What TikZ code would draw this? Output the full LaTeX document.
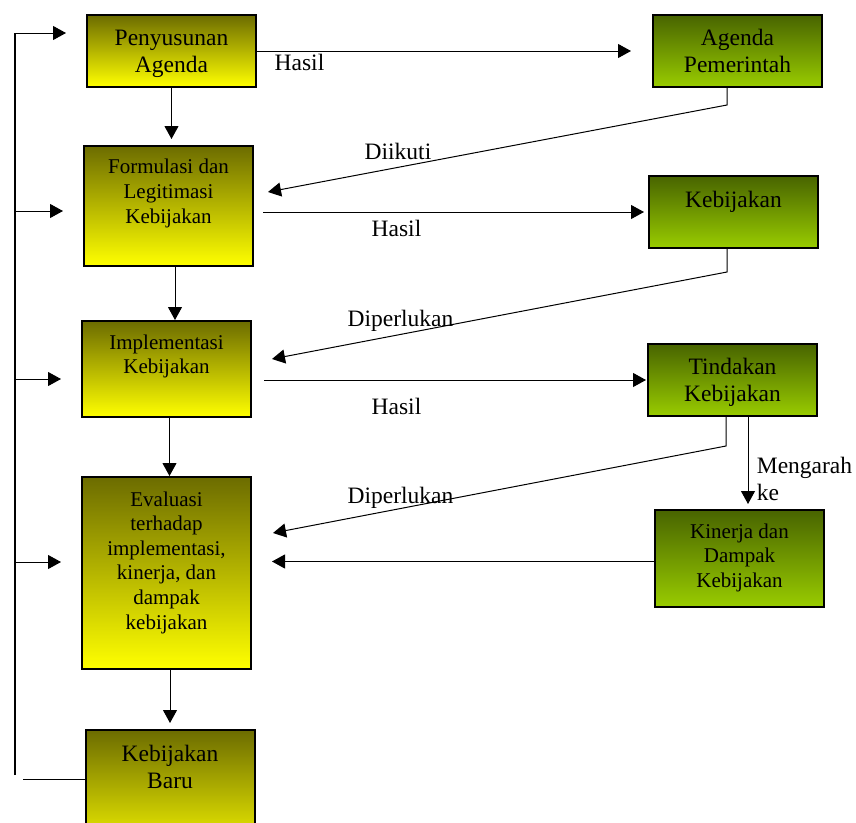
\documentclass[tikz,border=0pt]{standalone}
\usepackage{fontspec}
\setmainfont{Liberation Serif}
\usetikzlibrary{arrows.meta,positioning}

\definecolor{olivetop}{RGB}{108,108,0}
\definecolor{olivebot}{RGB}{255,255,0}
\definecolor{greentop}{RGB}{72,100,0}
\definecolor{greenbot}{RGB}{153,204,0}

\tikzset{
  ybox/.style={draw, line width=2pt, top color=olivetop, bottom color=olivebot,
    minimum width=169pt, inner sep=0pt},
  gbox/.style={draw, line width=2pt, top color=greentop, bottom color=greenbot,
    minimum width=169pt, inner sep=0pt},
  big/.style={font=\fontsize{23.5}{27}\selectfont, align=center, inner sep=0pt,
    execute at begin node=\strut, execute at end node=\strut},
  small/.style={big, font=\fontsize{21}{24.6}\selectfont},
  lbl/.style={font=\fontsize{23.5}{27}\selectfont, inner sep=0pt, anchor=base},
  con/.style={line width=1pt},
  arr/.style={con, -{Triangle[length=13pt,width=14pt]}},
}

\begin{document}
\begin{tikzpicture}[x=1pt, y=-1pt]
	\useasboundingbox (0,0) rectangle (856,822);

	% left column
	\node[ybox, minimum height=72pt] (penyusunan) at (171.5,51) {};
	\node[ybox, minimum height=120pt] (formulasi) at (168.5,206) {};
	\node[ybox, minimum height=96pt] (implementasi) at (166.5,369) {};
	\node[ybox, minimum height=192pt] (evaluasi) at (166.5,573) {};
	\node[ybox, minimum height=130pt] (baru) at (170,795) {};

	% right column
	\node[gbox, minimum height=72pt] (pemerintah) at (737.5,51) {};
	\node[gbox, minimum height=72pt] (kebijakan) at (733.5,212) {};
	\node[gbox, minimum height=72pt] (tindakan) at (732.5,380) {};
	\node[gbox, minimum height=97pt] (kinerja) at (739.5,558.5) {};

	\node[big] (penyusunan-t) at (171.5,55) {Penyusunan\\Agenda};
	\node[small] (formulasi-t) at (168.5,195) {Formulasi dan\\Legitimasi\\Kebijakan};
	\node[small] (implementasi-t) at (166.5,358) {Implementasi\\Kebijakan};
	\node[small] (evaluasi-t) at (166.5,564) {Evaluasi\\terhadap\\implementasi,\\kinerja, dan\\dampak\\kebijakan};
	\node[big] (baru-t) at (170,771) {Kebijakan\\Baru};
	\node[big] (pemerintah-t) at (737.5,55) {Agenda\\Pemerintah};
	\node[big] (kebijakan-t) at (733.5,201.6) {Kebijakan};
	\node[big] (tindakan-t) at (732.5,384) {Tindakan\\Kebijakan};
	\node[small] (kinerja-t) at (739.5,559) {Kinerja dan\\Dampak\\Kebijakan};

	\node[lbl] (hasil-a) at (299.5,70) {Hasil};
	\node[lbl] (diikuti) at (398,159) {Diikuti};
	\node[lbl] (hasil-b) at (396.5,236.7) {Hasil};
	\node[lbl] (diperlukan-a) at (400.5,326.7) {Diperlukan};
	\node[lbl] (hasil-c) at (396.5,414.3) {Hasil};
	\node[lbl] (diperlukan-b) at (400.5,503.3) {Diperlukan};
	\node[big, align=left, anchor=north west] (mengarah) at (756.7,457) {Mengarah\\ke};

	\coordinate (agbend) at (727,105);
	\coordinate (kbbend) at (727,272);
	\coordinate (tdbend) at (726,446);
	\coordinate (formin) at (268,192);
	\coordinate (implin) at (272,359);
	\coordinate (evalin) at (273,533);
	\coordinate (fbtop) at (15,33);
	\coordinate (fbbot) at (15,775);
	\coordinate (fbend) at (23,779);

	% results to the right
	\draw[arr, shorten >=21pt] (penyusunan.east) -- (pemerintah.west);
	\draw[arr, shorten <=9pt, shorten >=4pt] (formulasi.east |- kebijakan.west) -- (kebijakan.west);
	\draw[arr, shorten <=12pt, shorten >=1pt] (implementasi.east |- tindakan.west) -- (tindakan.west);
	\draw[arr, shorten >=20pt] ([yshift=-3pt]kinerja.west) -- ([yshift=-3pt]kinerja.west -| evaluasi.east);

	% back to the left
	\draw[arr] (agbend |- pemerintah.south) -- (agbend) -- (formin);
	\draw[arr] (kbbend |- kebijakan.south) -- (kbbend) -- (implin);
	\draw[arr] (tdbend |- tindakan.south) -- (tdbend) -- (evalin);

	% down the columns
	\draw[arr, shorten >=6pt] (penyusunan.south) -- (penyusunan.south |- formulasi.north);
	\draw[arr] ([xshift=6.5pt]formulasi.south) -- ([xshift=6.5pt]formulasi.south |- implementasi.north);
	\draw[arr] ([xshift=3pt]implementasi.south) -- ([xshift=3pt]implementasi.south |- evaluasi.north);
	\draw[arr, shorten >=6pt] ([xshift=3.5pt]evaluasi.south) -- ([xshift=3.5pt]evaluasi.south |- baru.north);
	\draw[arr, shorten >=5pt] ([xshift=15.5pt]tindakan.south) -- ([xshift=15.5pt]tindakan.south |- kinerja.north);

	% feedback
	\draw[con] (fbend -| baru.west) -- (fbend);
	\draw[con, line width=1.3pt] (fbbot) -- (fbtop);
	\foreach \n/\y in {penyusunan/33, formulasi/211, implementasi/379, evaluasi/562}
		\draw[arr, shorten >=20pt] (fbtop |- 0,\y) -- (\n.west |- 0,\y);

\end{tikzpicture}
\end{document}
